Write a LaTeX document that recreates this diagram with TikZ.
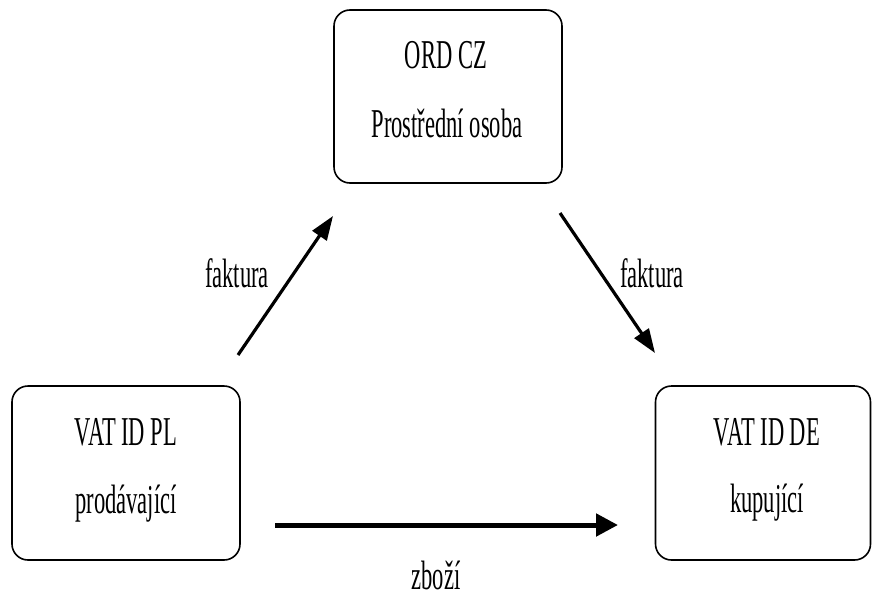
\documentclass[tikz,border=0pt]{standalone}
\usepackage{fontspec}
\setmainfont{Liberation Serif}[FakeStretch=0.55]
\usetikzlibrary{arrows.meta}
\begin{document}
\begin{tikzpicture}[x=1pt,y=-1pt,
  box/.style={draw,line width=1.6pt,rounded corners=16pt,inner sep=0pt},
  txt/.style={anchor=base,inner sep=0pt,font=\fontsize{41}{48}\selectfont},
  diag/.style={line width=3.2pt,-{Triangle[length=24pt,width=17pt]}},
  horiz/.style={line width=5pt,-{Triangle[length=22pt,width=22pt]}}]
\useasboundingbox (0,0) rectangle (872,597);
\clip (0,0) rectangle (872,597);
\fill[white] (0,0) rectangle (872,597);
% boxes
\node[box,minimum width=228pt,minimum height=173pt] (ord) at (448,96.5) {};
\node[box,minimum width=228pt,minimum height=174pt] (pl) at (126,473) {};
\node[box,minimum width=215pt,minimum height=174pt] (de) at (763,473) {};
% texts
\node[txt] (ordt1) at (446,68) {ORD CZ};
\node[txt] (ordt2) at (447,137) {Prostřední osoba};
\node[txt] (plt1) at (126,445) {VAT ID PL};
\node[txt] (plt2) at (126,513) {prodávající};
\node[txt] (det1) at (767,445) {VAT ID DE};
\node[txt] (det2) at (767,512) {kupující};
\node[txt] (lab1) at (237,287) {faktura};
\node[txt] (lab2) at (652,287) {faktura};
\node[txt] (lab3) at (436,589) {zboží};
% connector end points
\coordinate (a1s) at (238,355);
\coordinate (a1e) at (333,216);
\coordinate (a2s) at (560,213);
\coordinate (a2e) at (655,353);
\coordinate (a3s) at (275,525);
\coordinate (a3e) at (618,525);
\draw[diag] (a1s) -- (a1e);
\draw[diag] (a2s) -- (a2e);
\draw[horiz] (a3s) -- (a3e);
\end{tikzpicture}
\end{document}
